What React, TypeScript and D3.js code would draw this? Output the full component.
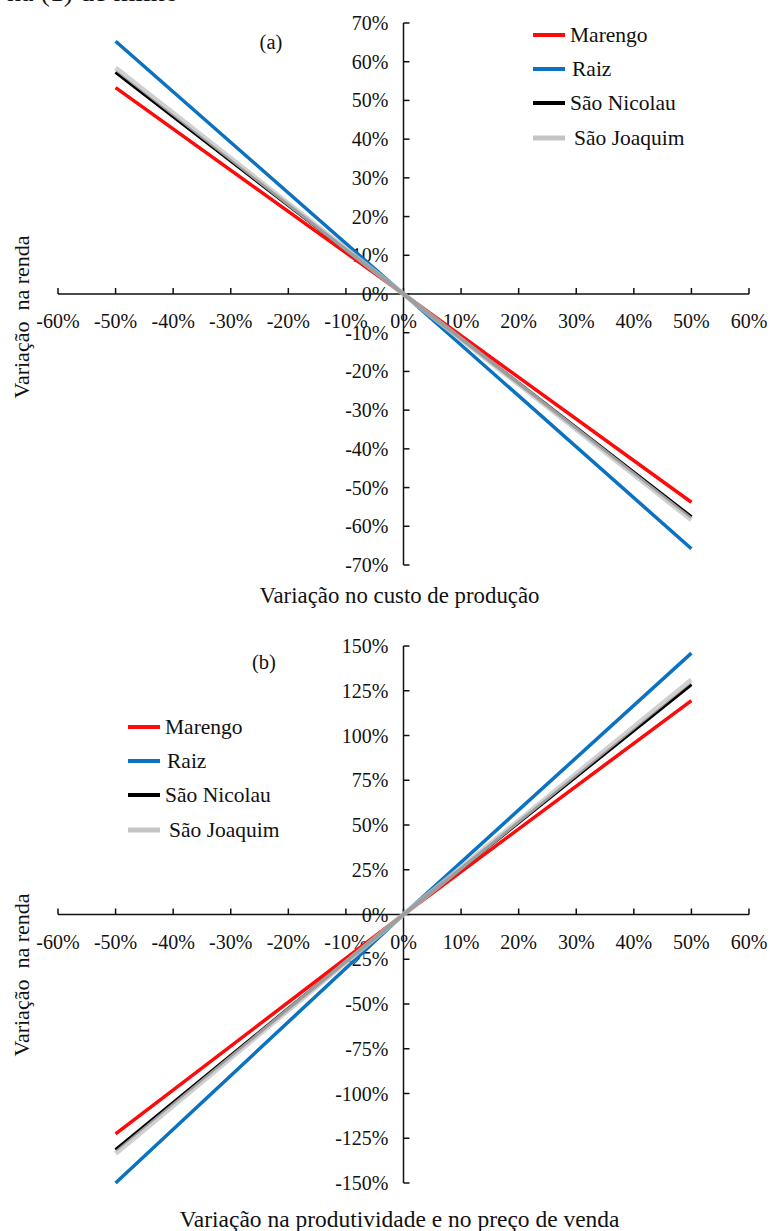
import React from 'react';
import * as d3 from 'd3';

// Percentage change applied to each driver (x values of every series)
const changeLevels = [-50, 0, 50];

const xTickValues = [-60, -50, -40, -30, -20, -10, 0, 10, 20, 30, 40, 50, 60];
const yTicksCost = [-70, -60, -50, -40, -30, -20, -10, 0, 10, 20, 30, 40, 50, 60, 70];
const yTicksYield = [-150, -125, -100, -75, -50, -25, 0, 25, 50, 75, 100, 125, 150];

const seriesNames = ['Marengo', 'Raiz', 'São Nicolau', 'São Joaquim'];
const seriesColors = ['#ff0a0a', '#0a72c0', '#000000', '#c4c4c4'];

// (a) income change vs. production cost change
const marengoCost = [53.3, 0, -53.8];
const raizCost = [65.3, 0, -65.8];
const saoNicolauCost = [57.3, 0, -57.6];
const saoJoaquimCost = [58.4, 0, -58.3];

// (b) income change vs. yield and sale price change
const marengoYield = [-122.5, 0, 119.5];
const raizYield = [-150, 0, 146];
const saoNicolauYield = [-131.5, 0, 128.5];
const saoJoaquimYield = [-133.5, 0, 131];

const FONT = '"Liberation Serif", "Times New Roman", Times, serif';

type PanelProps = {
  x: d3.ScaleLinear<number, number>;
  y: d3.ScaleLinear<number, number>;
  yTicks: number[];
  values: number[][];
  tag: string;
  tagPos: [number, number];
  legendX: number;
  legendYs: number[];
  title: string;
  titleY: number;
  titleWidth: number;
  yTitleY: number;
};

function Panel(p: PanelProps) {
  const { x, y } = p;
  const x0 = x(0);
  const y0 = y(0);
  const line = d3
    .line<number>()
    .x((_, i) => x(changeLevels[i]))
    .y((d) => y(d));
  const [xMin, xMax] = x.domain();
  const [yMin, yMax] = y.domain();
  return (
    <g fontFamily={FONT} fill="#111">
      {/* y axis */}
      <line x1={x0} x2={x0} y1={y(yMin)} y2={y(yMax)} stroke="#111" strokeWidth={1.5} />
      {p.yTicks.map((t) => (
        <g key={'y' + t}>
          <line x1={x0} x2={x0 + 6} y1={y(t)} y2={y(t)} stroke="#111" strokeWidth={1.5} />
          <text x={x0 - 15} y={y(t)} dy="0.35em" textAnchor="end" fontSize={20}>
            {t + '%'}
          </text>
        </g>
      ))}
      {/* x axis */}
      <line x1={x(xMin)} x2={x(xMax)} y1={y0} y2={y0} stroke="#111" strokeWidth={1.5} />
      {xTickValues.map((t) => (
        <g key={'x' + t}>
          <line x1={x(t)} x2={x(t)} y1={y0} y2={y0 - 6} stroke="#111" strokeWidth={1.5} />
          <text x={x(t)} y={y0 + 27} dy="0.35em" textAnchor="middle" fontSize={20}>
            {t + '%'}
          </text>
        </g>
      ))}
      {/* series */}
      {p.values.map((v, i) => (
        <path
          key={seriesNames[i]}
          d={line(v) || ''}
          fill="none"
          stroke={seriesColors[i]}
          strokeWidth={i === 3 ? 5 : 3.5}
          strokeOpacity={i === 3 ? 0.8 : 1}
        />
      ))}
      {/* legend */}
      {seriesNames.map((n, i) => (
        <g key={'lg' + n}>
          <line
            x1={p.legendX}
            x2={p.legendX + 32}
            y1={p.legendYs[i]}
            y2={p.legendYs[i]}
            stroke={seriesColors[i]}
            strokeWidth={i === 3 ? 5 : 4}
          />
          <text x={p.legendX + 37 + (i === 1 ? 2 : i === 3 ? 4 : 0)} y={p.legendYs[i]} dy="0.33em" fontSize={21.5}>
            {n}
          </text>
        </g>
      ))}
      <text x={p.tagPos[0]} y={p.tagPos[1]} dy="0.33em" textAnchor="middle" fontSize={20.5}>
        {p.tag}
      </text>
      <text
        x={x0 - 4}
        y={p.titleY}
        dy="0.33em"
        textAnchor="middle"
        fontSize={22.5}
        textLength={p.titleWidth}
        lengthAdjust="spacingAndGlyphs"
      >
        {p.title}
      </text>
      <text
        transform={`translate(22,${p.yTitleY}) rotate(-90)`}
        dy="0.33em"
        textAnchor="middle"
        fontSize={22}
        style={{ whiteSpace: 'pre' }}
      >
        {'Variação  na renda'}
      </text>
    </g>
  );
}

export default function App() {
  const xA = d3.scaleLinear().domain([-60, 60]).range([58, 749]);
  const yA = d3.scaleLinear().domain([-70, 70]).range([565, 23]);
  const xB = d3.scaleLinear().domain([-60, 60]).range([58, 749]);
  const yB = d3.scaleLinear().domain([-150, 150]).range([1183, 646]);

  return (
    <svg
      width={773}
      height={1231}
      viewBox="0 0 773 1231"
      style={{ position: 'absolute', left: 0, top: 0, background: '#fff' }}
    >
      <rect width={773} height={1231} fill="#fff" />
      <text x={7} y={1} fontFamily={FONT} fontSize={28} fill="#111">
        ha (1) de milho
      </text>
      <Panel
        x={xA}
        y={yA}
        yTicks={yTicksCost}
        values={[marengoCost, raizCost, saoNicolauCost, saoJoaquimCost]}
        tag="(a)"
        tagPos={[271, 42]}
        legendX={533}
        legendYs={[35, 69, 103, 138]}
        title="Variação no custo de produção"
        titleY={596}
        titleWidth={280}
        yTitleY={317}
      />
      <Panel
        x={xB}
        y={yB}
        yTicks={yTicksYield}
        values={[marengoYield, raizYield, saoNicolauYield, saoJoaquimYield]}
        tag="(b)"
        tagPos={[264, 662]}
        legendX={128}
        legendYs={[727, 761, 795, 830]}
        title="Variação na produtividade e no preço de venda"
        titleY={1220}
        titleWidth={440}
        yTitleY={975}
      />
    </svg>
  );
}
